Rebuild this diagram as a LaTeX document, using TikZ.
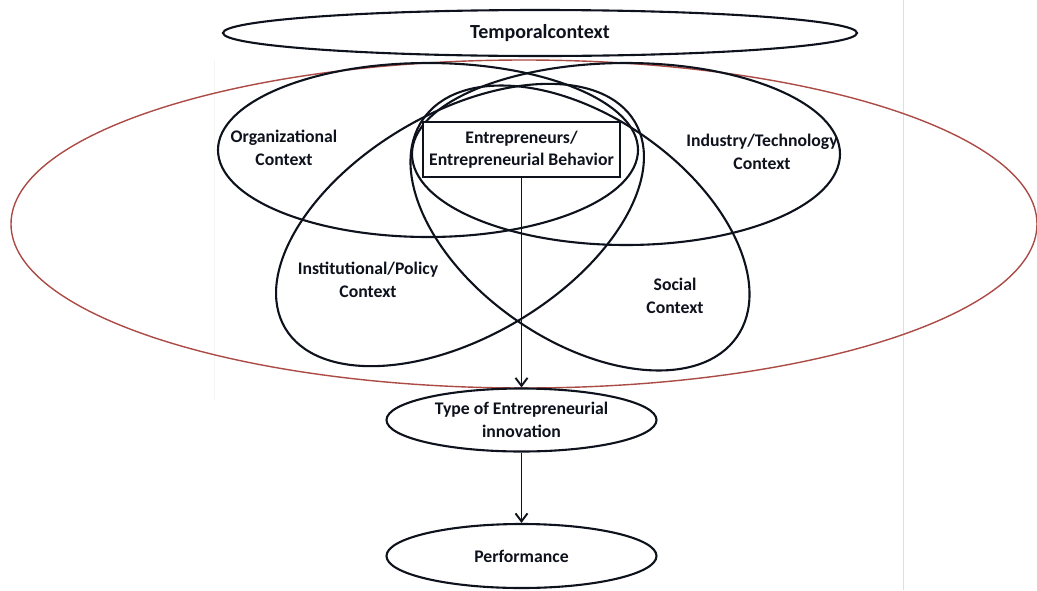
\documentclass[tikz,border=0pt]{standalone}
\usepackage{fontspec}
\setmainfont{Carlito}
\usetikzlibrary{shapes.geometric,arrows.meta}
\definecolor{ink}{RGB}{14,18,28}
\definecolor{rim}{RGB}{172,74,70}
\definecolor{rulegray}{RGB}{222,222,222}
\begin{document}
\begin{tikzpicture}[x=1pt,y=-1pt,
  ctx/.style={draw=ink, line width=2.1pt},
  txt/.style={font=\bfseries\fontsize{17.7}{22.5}\selectfont, align=center, text=ink},
  lbl/.style={txt, inner sep=0pt},
  oval/.style={ellipse, draw=ink, line width=2.1pt, inner sep=0pt, txt, fill=white},
  flow/.style={draw=ink, line width=1.9pt, -{Straight Barb[length=8pt,width=12pt,line width=1.9pt]}}]
\useasboundingbox (0,0) rectangle (1037,590);
\fill[white] (0,0) rectangle (1037,590);

% faint page rules
\draw[rulegray, line width=1pt] (903,0) -- (903,590);
\draw[rulegray!30, line width=0.8pt] (214,60) -- (214,400);

% enclosing environment
\draw[rim, line width=1.4pt] (524,224) ellipse [x radius=513, y radius=164];

% temporal context
\node[oval, minimum width=634, minimum height=46, font=\bfseries\fontsize{20}{24}\selectfont] (temporal) at (540,33) {Temporalcontext};

% context ellipses
\draw[ctx] (428,150) ellipse [x radius=210, y radius=87];
\draw[ctx] (626,154) ellipse [x radius=214, y radius=91];
\draw[ctx, rotate around={30.5:(460,225)}] (460,225) ellipse [x radius=203, y radius=112];
\draw[ctx, rotate around={-34.7:(580,228)}] (580,228) ellipse [x radius=191, y radius=112];

% context labels
\node[lbl] (org) at (284,148) {Organizational\\Context};
\node[lbl] (ind) at (762,152) {Industry/Technology\\Context};
\node[lbl] (inst) at (368,280) {Institutional/Policy\\Context};
\node[lbl] (soc) at (675,296) {Social\\Context};

% entrepreneur box and outcomes
\node[txt, draw=ink, line width=2.1pt, fill=white, inner sep=0pt,
      minimum width=197, minimum height=55] (ent) at (521.5,149.5)
      {Entrepreneurs/\\Entrepreneurial Behavior};
\node[oval, minimum width=270, minimum height=63] (type) at (521.5,420)
      {Type of Entrepreneurial\\innovation};
\node[oval, minimum width=270, minimum height=64] (perf) at (521.5,556) {Performance};

\draw[flow] (ent) -- (type);
\draw[flow] (type) -- (perf);
\end{tikzpicture}
\end{document}
